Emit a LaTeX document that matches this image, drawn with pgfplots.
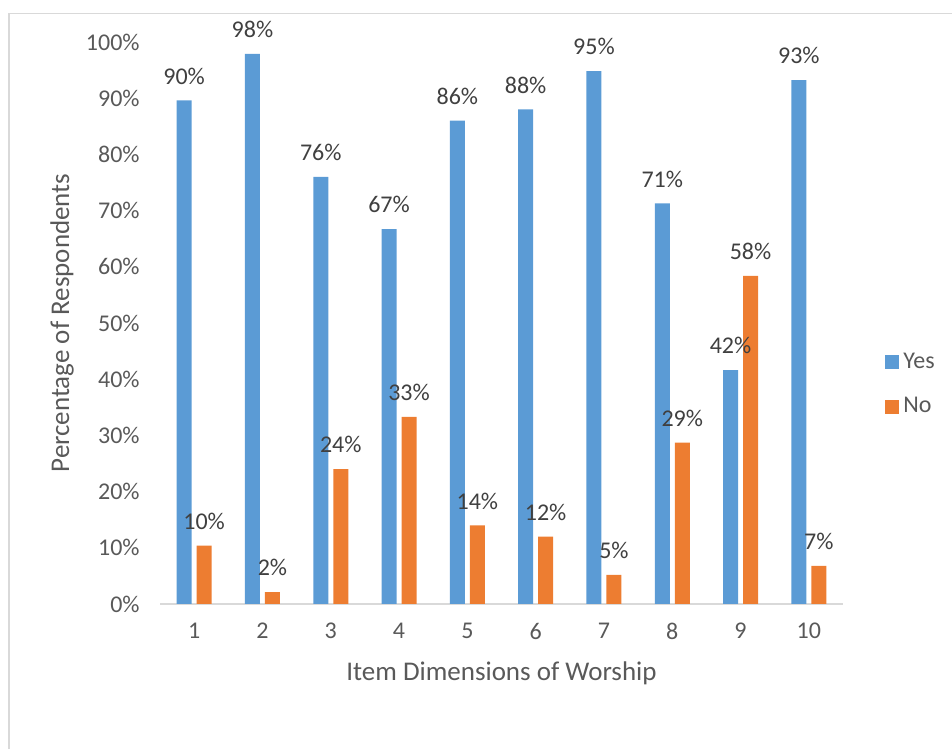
\documentclass[border=0pt]{standalone}
\usepackage{fontspec}
\setmainfont{Carlito}
\usepackage{pgfplots}
\pgfplotsset{compat=1.18}
\definecolor{yesblue}{HTML}{5B9BD5}
\definecolor{noorange}{HTML}{ED7D31}
\definecolor{txtgray}{HTML}{595959}
\definecolor{lblgray}{HTML}{404040}
\definecolor{linegray}{HTML}{D9D9D9}

\begin{document}
\begin{tikzpicture}
\useasboundingbox (0,0) rectangle (476pt,374.5pt);
\draw[linegray, line width=0.8pt] (4.5pt,0) -- (4.5pt,367.75pt) -- (476pt,367.75pt);
\begin{axis}[
  at={(80pt,72.5pt)}, anchor=south west,
  scale only axis, width=341.5pt, height=281pt,
  xmin=0.5, xmax=10.5, ymin=0, ymax=100,
  xtick={1,...,10}, ytick={0,10,...,100},
  yticklabel={\pgfmathprintnumber{\tick}\%},
  /pgf/number format/assume math mode=true,
  major tick length=0pt,
  axis x line=bottom, axis y line=left,
  x axis line style={-, draw=linegray, line width=1pt},
  y axis line style={draw=none},
  ticklabel style={font=\fontsize{12}{14}\selectfont, text=txtgray},
  yticklabel style={inner sep=0pt, xshift=-10pt},
  xticklabel style={yshift=-6pt},
  xlabel={Item Dimensions of Worship},
  ylabel={Percentage of Respondents},
  label style={font=\fontsize{13.5}{16}\selectfont, text=txtgray},
  xlabel style={at={(axis description cs:0.5,-0.1228)}, anchor=center},
  ylabel style={at={(axis description cs:-0.1435,0.5)}, anchor=center},
  ybar, bar width=7.5pt,
  legend style={at={(axis description cs:1.0615,0.3906)}, anchor=west,
    draw=none, fill=none, inner sep=0pt, row sep=9pt,
    font=\fontsize{12}{14}\selectfont, text=txtgray},
  legend cell align=left,
  legend image code/.code={\fill[#1] (0pt,-3.5pt) rectangle (7pt,3.5pt);},
  nodes near coords={\pgfmathprintnumber[fixed,precision=0]{\pgfplotspointmeta}\%},
  every node near coord/.append style={font=\fontsize{12}{14}\selectfont, text=lblgray, yshift=4.5pt},
]
\addplot[fill=yesblue, draw=none, bar shift=-5pt] coordinates {
  (1,89.6) (2,97.9) (3,76.0) (4,66.7) (5,86.0) (6,88.0) (7,94.8) (8,71.3) (9,41.6) (10,93.2)};
\addplot[fill=noorange, draw=none, bar shift=5pt] coordinates {
  (1,10.4) (2,2.1) (3,24.0) (4,33.3) (5,14.0) (6,12.0) (7,5.2) (8,28.7) (9,58.4) (10,6.8)};
\legend{Yes, No}
\end{axis}
\end{tikzpicture}
\end{document}
